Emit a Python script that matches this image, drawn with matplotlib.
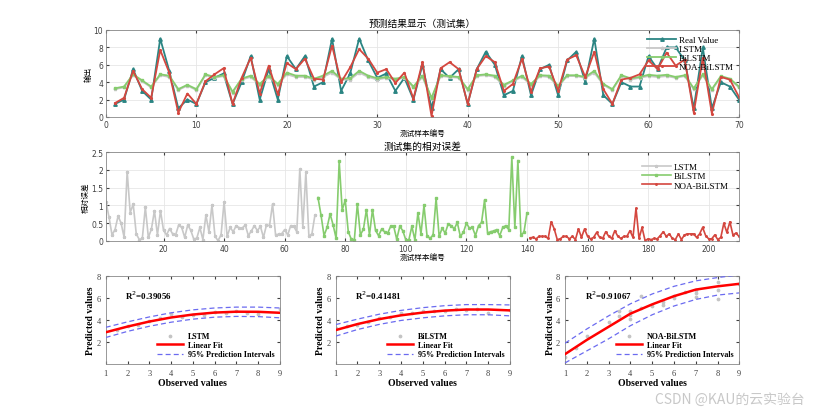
import numpy as np
import matplotlib
matplotlib.use("Agg")
import matplotlib.pyplot as plt

# ---- data ----
sample_idx = np.arange(1, 71)

real_value = [1.5, 2, 5.5, 3, 2, 9, 5.3, 1, 2, 1.5,
              4, 4.5, 5, 1.5, 4, 7, 2, 5.5, 2, 7,
              5.5, 7, 3.5, 4, 9, 3, 5, 9, 6.5, 4.5,
              5, 3, 4.5, 2, 6, 1, 5.5, 4.5, 5.5, 1.5,
              5.5, 7.5, 6, 2.5, 3, 7, 2.5, 5.5, 6, 2.5,
              6.5, 7.5, 4, 9, 2.5, 1.5, 4, 3.5, 3.5, 7,
              5.5, 8, 8, 6.5, 1, 8, 1, 4, 3.5, 2]

lstm_pred = [3.2, 3.4, 4.8, 4.1, 3.4, 4.8, 4.6, 3.1, 3.6, 3.1,
             4.8, 4.5, 4.7, 2.8, 4.3, 4.6, 3.7, 4.6, 3.7, 4.9,
             4.6, 4.6, 4.3, 4.6, 5.1, 4.3, 4.3, 5.1, 4.6, 4.3,
             4.5, 4.3, 4.5, 3.4, 4.6, 2.1, 4.7, 4.6, 4.5, 3.1,
             4.7, 4.8, 4.6, 3.6, 4.1, 4.6, 3.7, 4.7, 4.6, 3.5,
             4.7, 4.7, 4.5, 5.1, 3.7, 3.1, 4.7, 4.3, 4.5, 4.7,
             4.6, 4.7, 4.5, 4.7, 3.2, 4.8, 3.1, 4.6, 4.3, 3.4]

bilstm_pred = [3.3, 3.5, 4.9, 4.2, 3.5, 4.9, 4.75, 3.2, 3.7, 3.2,
               4.9, 4.6, 4.8, 2.9, 4.4, 4.75, 3.8, 4.75, 3.8, 5.1,
               4.75, 4.75, 4.4, 4.75, 5.3, 4.4, 4.45, 5.3, 4.75, 4.45,
               4.6, 4.4, 4.6, 3.5, 4.75, 2.2, 4.8, 4.7, 4.6, 3.2,
               4.8, 4.9, 4.75, 3.7, 4.2, 4.75, 3.8, 4.8, 4.75, 3.6,
               4.8, 4.8, 4.6, 5.3, 3.8, 3.2, 4.8, 4.45, 4.6, 4.85,
               4.75, 4.85, 4.6, 4.8, 3.3, 4.9, 3.2, 4.7, 4.4, 3.5]

noa_pred = [1.6, 2.2, 5.3, 3.2, 2.2, 7.7, 5.1, 0.5, 2.7, 1.5,
            4.1, 4.9, 5.6, 1.5, 4.5, 6.8, 2.7, 5.9, 2.6, 6.2,
            5.5, 6.7, 4.4, 4.3, 8.2, 4.0, 5.7, 7.8, 6.7, 5.1,
            5.5, 3.9, 5.1, 2.1, 6.3, 0.1, 5.6, 6.3, 5.5, 1.5,
            5.5, 7.0, 6.3, 3.0, 3.8, 6.7, 2.9, 5.6, 5.8, 3.0,
            6.6, 7.1, 4.6, 7.5, 3.2, 1.5, 4.3, 4.5, 4.9, 6.5,
            5.5, 7.4, 5.9, 6.6, 0.5, 6.8, 0.4, 4.6, 4.3, 2.3]

err_idx_lstm = np.arange(1, 71)
err_idx_bilstm = np.arange(71, 141)
err_idx_noa = np.arange(141, 211)

err_lstm = [1.1, 0.67, 0.17, 0.32, 0.7, 0.5, 0.1, 1.95, 0.8, 1.03,
            0.2, 0.04, 0.07, 0.95, 0.1, 0.33, 0.85, 0.17, 0.85, 0.3,
            0.17, 0.35, 0.2, 0.17, 0.45, 0.38, 0.1, 0.45, 0.3, 0.05,
            0.08, 0.38, 0.04, 0.73, 0.25, 1.01, 0.13, 0.01, 0.17, 1.1,
            0.13, 0.38, 0.26, 0.43, 0.37, 0.36, 0.45, 0.15, 0.28, 0.43,
            0.29, 0.41, 0.1, 0.45, 0.43, 1.04, 0.17, 0.19, 0.2, 0.32,
            0.17, 0.43, 0.41, 0.26, 2.02, 0.38, 1.93, 0.13, 0.2, 0.73]

err_bilstm = [1.22, 0.73, 0.15, 0.38, 0.76, 0.45, 0.07, 2.24, 0.87, 1.15,
              0.26, 0.05, 0.03, 1.04, 0.17, 0.33, 0.88, 0.17, 0.88, 0.3,
              0.15, 0.33, 0.26, 0.22, 0.41, 0.41, 0.05, 0.41, 0.29, 0.03,
              0.03, 0.41, 0.03, 0.79, 0.2, 1.0, 0.15, 0.07, 0.17, 1.2,
              0.13, 0.36, 0.22, 0.48, 0.43, 0.34, 0.52, 0.13, 0.24, 0.5,
              0.36, 0.38, 0.15, 0.43, 0.52, 1.15, 0.22, 0.26, 0.28, 0.32,
              0.15, 0.38, 0.43, 0.32, 2.35, 0.38, 2.26, 0.17, 0.24, 0.79]

err_noa = [0.09, 0.1, 0.06, 0.13, 0.13, 0.13, 0.07, 0.54, 0.34, 0.04,
           0.06, 0.13, 0.13, 0.06, 0.13, 0.04, 0.34, 0.1, 0.34, 0.13,
           0.06, 0.1, 0.24, 0.1, 0.07, 0.26, 0.13, 0.07, 0.29, 0.13,
           0.07, 0.13, 0.13, 0.29, 0.1, 0.92, 0.07, 0.38, 0.01, 0.06,
           0.04, 0.07, 0.06, 0.15, 0.26, 0.13, 0.2, 0.07, 0.04, 0.2,
           0.04, 0.17, 0.2, 0.2, 0.2, 0.1, 0.2, 0.38, 0.15, 0.06,
           0.06, 0.17, 0.04, 0.1, 0.5, 0.24, 0.54, 0.17, 0.22, 0.13]

# regression panels
fit_x = [1, 2, 3, 4, 5, 6, 7, 8, 9]
model_names = ["LSTM", "BiLSTM", "NOA-BiLSTM"]
r2_values = ["0.39056", "0.41481", "0.91067"]

fit_lstm = [2.9, 3.42, 3.88, 4.25, 4.52, 4.7, 4.78, 4.77, 4.68]
upper_lstm = [3.35, 3.85, 4.3, 4.68, 4.95, 5.12, 5.2, 5.2, 5.12]
lower_lstm = [2.42, 2.98, 3.45, 3.82, 4.1, 4.28, 4.35, 4.33, 4.22]

fit_bilstm = [3.1, 3.65, 4.1, 4.45, 4.7, 4.88, 4.98, 4.98, 4.9]
upper_bilstm = [3.6, 4.1, 4.55, 4.9, 5.15, 5.33, 5.43, 5.43, 5.4]
lower_bilstm = [2.55, 3.15, 3.62, 3.98, 4.22, 4.4, 4.5, 4.5, 4.4]

fit_noa = [0.9, 2.2, 3.4, 4.6, 5.45, 6.2, 6.8, 7.1, 7.33]
upper_noa = [1.9, 3.2, 4.4, 5.5, 6.4, 7.1, 7.6, 7.9, 8.15]
lower_noa = [0.1, 1.2, 2.3, 3.5, 4.5, 5.3, 5.9, 6.3, 6.5]

obs_lstm = [1.5, 2, 2.5, 3, 3.5, 4, 4.5, 5, 5.5, 6, 6.5, 7, 7.5, 8, 9]
scat_lstm = [3.1, 3.5, 3.6, 3.9, 4.2, 4.6, 4.3, 4.5, 4.5, 4.75, 4.7, 4.8, 4.7, 4.6, 5.0]
obs_bilstm = [1, 1.5, 2, 2.5, 3, 3.5, 4, 4.5, 5, 5.5, 6, 6.5, 7, 7.5, 8, 9]
scat_bilstm = [3.3, 3.5, 3.6, 3.8, 4.2, 4.3, 4.7, 4.7, 4.8, 4.8, 4.8, 5.0, 4.9, 5.0, 4.7, 4.9]
obs_noa = [1, 1.5, 2, 3, 3.5, 3.5, 4, 4, 4, 4.5, 4.5, 5, 5.5, 5.5, 6, 6, 6.5, 7, 7, 7, 8, 8, 8, 9]
scat_noa = [0.6, 1.5, 2.6, 3.8, 4.4, 4.8, 4.1, 4.5, 4.8, 6.2, 5.1, 5.3, 5.4, 5.7, 6.0, 6.2,
            6.6, 6.1, 6.5, 6.8, 5.9, 6.8, 7.5, 7.3]

# ---- styling ----
serif = "Liberation Serif"
cjk = ["Noto Sans CJK SC", "DejaVu Sans"]
c_real = "#2b8583"
c_lstm = "#c8c8c8"
c_bilstm = "#86cc6e"
c_noa = "#d4473f"
tick_col = "#404040"

fig = plt.figure(figsize=(8.17, 4.10), dpi=100)


def matlab_axes(ax):
    ax.tick_params(direction="in", labelsize=5.5, colors=tick_col, length=2.5,
                   top=True, right=True, pad=2)
    for s in ax.spines.values():
        s.set_color("#888888")
        s.set_linewidth(0.6)
    ax.grid(True, color="#e6e6e6", linewidth=0.6)
    ax.set_axisbelow(True)


# top chart: predictions
ax1 = fig.add_axes([0.1297, 0.7122, 0.7748, 0.2122])
ax1.plot(sample_idx, real_value, color=c_real, lw=1.3, marker="^", ms=2.5, label="Real Value")
ax1.plot(sample_idx, lstm_pred, color=c_lstm, lw=1.3, marker="*", ms=2.5, label="LSTM")
ax1.plot(sample_idx, bilstm_pred, color=c_bilstm, lw=1.3, marker="s", ms=1.8, label="BiLSTM")
ax1.plot(sample_idx, noa_pred, color=c_noa, lw=1.3, marker=".", ms=2.5, label="NOA-BiLSTM")
ax1.set_xlim(0, 70)
ax1.set_ylim(0, 10)
ax1.set_xticks(range(0, 71, 10))
ax1.set_yticks(range(0, 11, 2))
matlab_axes(ax1)
ax1.set_title("预测结果显示（测试集）", family=cjk, fontsize=7, pad=3)
ax1.set_xlabel("测试样本编号", family=cjk, fontsize=5.5, labelpad=0)
ax1.set_ylabel("输出", family=cjk, fontsize=5.5, labelpad=1)
ax1.legend(loc="upper right", frameon=False, prop={"family": serif, "size": 6.5},
           handlelength=3.2, labelspacing=0.1, borderaxespad=0.2, handletextpad=0.3)

# middle chart: relative errors
ax2 = fig.add_axes([0.1297, 0.4098, 0.7748, 0.217])
ax2.plot(err_idx_lstm, err_lstm, color=c_lstm, lw=1.2, marker="*", ms=2.2, label="LSTM")
ax2.plot(err_idx_bilstm, err_bilstm, color=c_bilstm, lw=1.2, marker="s", ms=1.6, label="BiLSTM")
ax2.plot(err_idx_noa, err_noa, color=c_noa, lw=1.2, marker=".", ms=2.2, label="NOA-BiLSTM")
ax2.set_xlim(1, 210)
ax2.set_ylim(0, 2.5)
ax2.set_xticks(range(20, 201, 20))
ax2.set_yticks([0, 0.5, 1, 1.5, 2, 2.5])
ax2.set_yticklabels(["0", "0.5", "1", "1.5", "2", "2.5"])
matlab_axes(ax2)
ax2.set_title("测试集的相对误差", family=cjk, fontsize=7, pad=2)
ax2.set_xlabel("测试样本编号", family=cjk, fontsize=5.5, labelpad=0)
ax2.set_ylabel("相对误差", family=cjk, fontsize=5.5, labelpad=1)
ax2.legend(loc="upper right", frameon=False, prop={"family": serif, "size": 6.5},
           handlelength=3.2, labelspacing=0.1, borderaxespad=0.8, handletextpad=0.3)

# bottom: regression panels
panel_lefts = [0.1294, 0.4109, 0.6916]
fits = [fit_lstm, fit_bilstm, fit_noa]
uppers = [upper_lstm, upper_bilstm, upper_noa]
lowers = [lower_lstm, lower_bilstm, lower_noa]
obs_all = [obs_lstm, obs_bilstm, obs_noa]
scat_all = [scat_lstm, scat_bilstm, scat_noa]

for k in range(3):
    ax = fig.add_axes([panel_lefts[k], 0.1098, 0.2133, 0.2134])
    ax.scatter(obs_all[k], scat_all[k], s=3, color="#c4c4c4", label=model_names[k], zorder=2)
    ax.plot(fit_x, fits[k], color="red", lw=1.8, label="Linear Fit", zorder=3)
    ax.plot(fit_x, uppers[k], color="#6b6bf0", lw=0.9, ls=(0, (4, 2.5)),
            label="95% Prediction Intervals", zorder=3)
    ax.plot(fit_x, lowers[k], color="#6b6bf0", lw=0.9, ls=(0, (4, 2.5)), zorder=3)
    ax.set_xlim(1, 9)
    ax.set_ylim(0, 8)
    ax.set_xticks(range(1, 10))
    ax.set_yticks([2, 4, 6, 8])
    ax.tick_params(direction="in", labelsize=6, colors=tick_col, length=2.5,
                   top=True, right=True)
    for lab in ax.get_xticklabels() + ax.get_yticklabels():
        lab.set_family(serif)
    for s in ax.spines.values():
        s.set_color("#888888")
        s.set_linewidth(0.6)
    ax.set_xlabel("Observed values", family=serif, fontsize=7, fontweight="bold", labelpad=1)
    ax.set_ylabel("Predicted values", family=serif, fontsize=7, fontweight="bold", labelpad=1)
    ax.text(1.9, 5.9, "R$^2$=" + r2_values[k], family=serif, fontsize=6.5, fontweight="bold")
    ax.legend(loc="lower right", frameon=False,
              prop={"family": serif, "size": 5.8, "weight": "bold"},
              handlelength=3.2, labelspacing=0.15, borderaxespad=0.3, handletextpad=0.6)

fig.text(0.985, 0.008, "CSDN @KAU的云实验台", family=cjk, fontsize=10,
         color="#c8c8c8", ha="right", va="bottom")

fig.savefig("out.png", dpi=100, facecolor="white")
